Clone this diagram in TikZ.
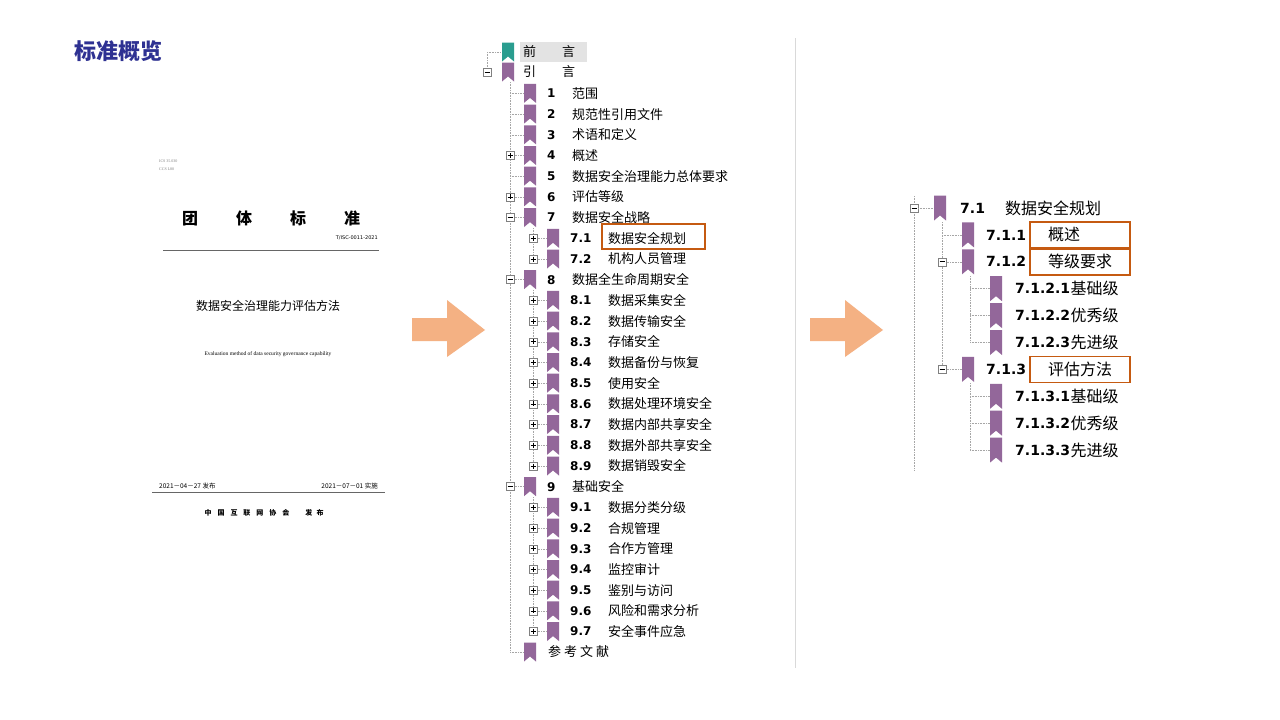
\documentclass[tikz,border=0pt]{standalone}
\usepackage{fontspec}
\setmainfont{Liberation Serif}
\setsansfont{DejaVu Sans}
\newfontfamily\cjk{Noto Sans CJK SC}
\definecolor{bmpurple}{HTML}{93679A}
\definecolor{bmteal}{HTML}{2A9D8F}
\definecolor{hiorange}{HTML}{C55A11}
\definecolor{arroworange}{HTML}{F4B183}
\definecolor{titleblue}{HTML}{2E3192}
\tikzstyle{leaf}=[inner sep=0pt,anchor=west,font=\cjk\fontsize{13}{13}\selectfont]
\tikzstyle{num}=[inner sep=0pt,anchor=west,font=\sffamily\bfseries\fontsize{12}{12}\selectfont]
\tikzstyle{bigleaf}=[inner sep=0pt,anchor=west,font=\cjk\fontsize{16}{16}\selectfont]
\tikzstyle{bignum}=[inner sep=0pt,anchor=west,font=\sffamily\bfseries\fontsize{14}{14}\selectfont]
\tikzstyle{treeline}=[gray!70,densely dotted,line width=0.6pt]
\tikzstyle{hibox}=[draw=hiorange,line width=1.4pt]
\newcommand{\bmark}[5]{% name, x, y, colour, half height
  \fill[#4] (#2-6,#3-#5) -- (#2+6,#3-#5) -- (#2+6,#3+#5) -- (#2,#3+#5-5) -- (#2-6,#3+#5) -- cycle;
  \coordinate (#1) at (#2,#3);}
\newcommand{\exbox}[4]{% name, x, y, sign
  \node[draw=gray,fill=white,line width=0.5pt,minimum size=8pt,inner sep=0pt] (#1) at (#2,#3) {};
  \draw[line width=0.7pt] (#2-2.5,#3) -- (#2+2.5,#3);
  \if#4+\draw[line width=0.7pt] (#2,#3-2.5) -- (#2,#3+2.5);\fi}
\begin{document}
\begin{tikzpicture}[x=1pt,y=-1pt]
    \useasboundingbox (0,0) rectangle (1280,720);
    \fill[white] (0,0) rectangle (1280,720);
    \node[anchor=west,inner sep=0pt,text=titleblue,font=\cjk\bfseries\fontsize{22}{22}\selectfont] (title) at (74,51) {标准概览};

    % cover page
    \node[anchor=west,inner sep=0pt,font=\fontsize{4}{4}\selectfont,text=gray] (ics) at (159,161) {ICS 35.030};
    \node[anchor=west,inner sep=0pt,font=\fontsize{4}{4}\selectfont,text=gray] (ccs) at (159,169) {CCS L80};
    \node[inner sep=0pt,font=\cjk\bfseries\fontsize{16}{16}\selectfont] (tt) at (271,218) {团\hspace{38pt}体\hspace{38pt}标\hspace{38pt}准};
    \node[anchor=east,inner sep=0pt,font=\sffamily\fontsize{5}{5}\selectfont] (code) at (378,238) {T/ISC-0011-2021};
    \draw[gray!80!black,line width=1pt] (163,250) -- (379,250);
    \node[inner sep=0pt,font=\cjk\fontsize{12}{12}\selectfont] (ctitle) at (268,306) {数据安全治理能力评估方法};
    \node[inner sep=0pt,font=\fontsize{5.5}{5.5}\selectfont] (etitle) at (268,354) {Evaluation method of data security governance capability};
    \node[anchor=west,inner sep=0pt,font=\cjk\fontsize{6.5}{6.5}\selectfont] (d1) at (159,486) {2021－04－27 发布};
    \node[anchor=east,inner sep=0pt,font=\cjk\fontsize{6.5}{6.5}\selectfont] (d2) at (378,486) {2021－07－01 实施};
    \draw[gray!80!black,line width=1pt] (152,492) -- (385,492);
    \node[inner sep=0pt,font=\cjk\bfseries\fontsize{7}{7}\selectfont] (pub) at (264,513) {中\hspace{6pt}国\hspace{6pt}互\hspace{6pt}联\hspace{6pt}网\hspace{6pt}协\hspace{6pt}会\hspace{16pt}发\hspace{4pt}布};

    % arrows
    \fill[arroworange] (412,318) -- (447,318) -- (447,300) -- (485,330) -- (447,357) -- (447,341) -- (412,341) -- cycle;
    \fill[arroworange] (810,318) -- (845,318) -- (845,300) -- (883,330) -- (845,357) -- (845,341) -- (810,341) -- cycle;
    \draw[gray!30,line width=0.8pt] (795,38) -- (795,668);

    % middle tree
    \draw[treeline] (487,52) -- (487,72);
    \draw[treeline] (487,52) -- (500,52);
    \draw[treeline] (510,82) -- (510,652);
    \draw[treeline] (533,228) -- (533,259);
    \draw[treeline] (533,290) -- (533,466);
    \draw[treeline] (533,497) -- (533,632);
    \fill[gray!22] (520,42) rectangle (587,62);
    \bmark{qy}{508}{52}{bmteal}{9.5}
    \node[leaf] (qyt) at (523,52) {前\hspace{26pt}言};
    \exbox{yyx}{487}{72}{-}
    \bmark{yy}{508}{72}{bmpurple}{9.5}
    \node[leaf] (yyt) at (523,72) {引\hspace{26pt}言};
    \foreach \i/\n/\t/\e in {2/1/范围/o,3/2/规范性引用文件/o,4/3/术语和定义/o,5/4/概述/+,
        6/5/数据安全治理能力总体要求/o,7/6/评估等级/+,8/7/数据安全战略/-,
        11/8/数据全生命周期安全/-,21/9/基础安全/-}{
      \pgfmathsetmacro\yy{52+20.7*\i}
      \draw[treeline] (510,\yy) -- (524,\yy);
      \if\e o\else\exbox{x\i}{510}{\yy}{\e}\fi
      \bmark{b\i}{530}{\yy}{bmpurple}{9.5}
      \node[num] (n\i) at (547,\yy) {\n};
      \node[leaf] (t\i) at (572,\yy) {\t};
    }
    \foreach \i/\n/\t in {9/7.1/数据安全规划,10/7.2/机构人员管理,
        12/8.1/数据采集安全,13/8.2/数据传输安全,14/8.3/存储安全,15/8.4/数据备份与恢复,
        16/8.5/使用安全,17/8.6/数据处理环境安全,18/8.7/数据内部共享安全,
        19/8.8/数据外部共享安全,20/8.9/数据销毁安全,
        22/9.1/数据分类分级,23/9.2/合规管理,24/9.3/合作方管理,25/9.4/监控审计,
        26/9.5/鉴别与访问,27/9.6/风险和需求分析,28/9.7/安全事件应急}{
      \pgfmathsetmacro\yy{52+20.7*\i}
      \draw[treeline] (533,\yy) -- (547,\yy);
      \exbox{x\i}{533}{\yy}{+}
      \bmark{b\i}{553}{\yy}{bmpurple}{9.5}
      \node[num] (n\i) at (570,\yy) {\n};
      \node[leaf] (t\i) at (608,\yy) {\t};
    }
    \draw[treeline] (510,652) -- (524,652);
    \bmark{ck}{530}{652}{bmpurple}{9.5}
    \node[leaf] (ckt) at (548,652) {参\hspace{3pt}考\hspace{3pt}文\hspace{3pt}献};
    \draw[hibox] (602,224) rectangle (705,249);

    % right tree
    \draw[treeline] (914,196) -- (914,470);
    \draw[treeline] (942,222) -- (942,369);
    \draw[treeline] (970,276) -- (970,342);
    \draw[treeline] (970,383) -- (970,450);
    \exbox{r0x}{914}{208}{-}
    \draw[treeline] (918,208) -- (934,208);
    \bmark{r0}{940}{208}{bmpurple}{12.5}
    \node[bignum] (rn0) at (960,208) {7.1};
    \node[bigleaf] (rt0) at (1005,208) {数据安全规划};
    \foreach \j/\n/\t/\e in {1/7.1.1/概述/o,2/7.1.2/等级要求/-,6/7.1.3/评估方法/-}{
      \pgfmathsetmacro\yy{208+26.9*\j}
      \draw[treeline] (942,\yy) -- (962,\yy);
      \if\e o\else\exbox{rx\j}{942}{\yy}{\e}\fi
      \bmark{r\j}{968}{\yy}{bmpurple}{12.5}
      \node[bignum] (rn\j) at (986,\yy) {\n};
      \node[bigleaf] (rt\j) at (1048,\yy) {\t};
      \draw[hibox] (1030,\yy-13) rectangle (1130,\yy+13);
    }
    \foreach \j/\n/\t in {3/7.1.2.1/基础级,4/7.1.2.2/优秀级,5/7.1.2.3/先进级,
        7/7.1.3.1/基础级,8/7.1.3.2/优秀级,9/7.1.3.3/先进级}{
      \pgfmathsetmacro\yy{208+26.9*\j}
      \draw[treeline] (970,\yy) -- (990,\yy);
      \bmark{r\j}{996}{\yy}{bmpurple}{12.5}
      \node[bignum] (rn\j) at (1015,\yy) {\n};
      \node[bigleaf] (rt\j) at (rn\j.east) {\t};
    }
  \end{tikzpicture}
\end{document}
